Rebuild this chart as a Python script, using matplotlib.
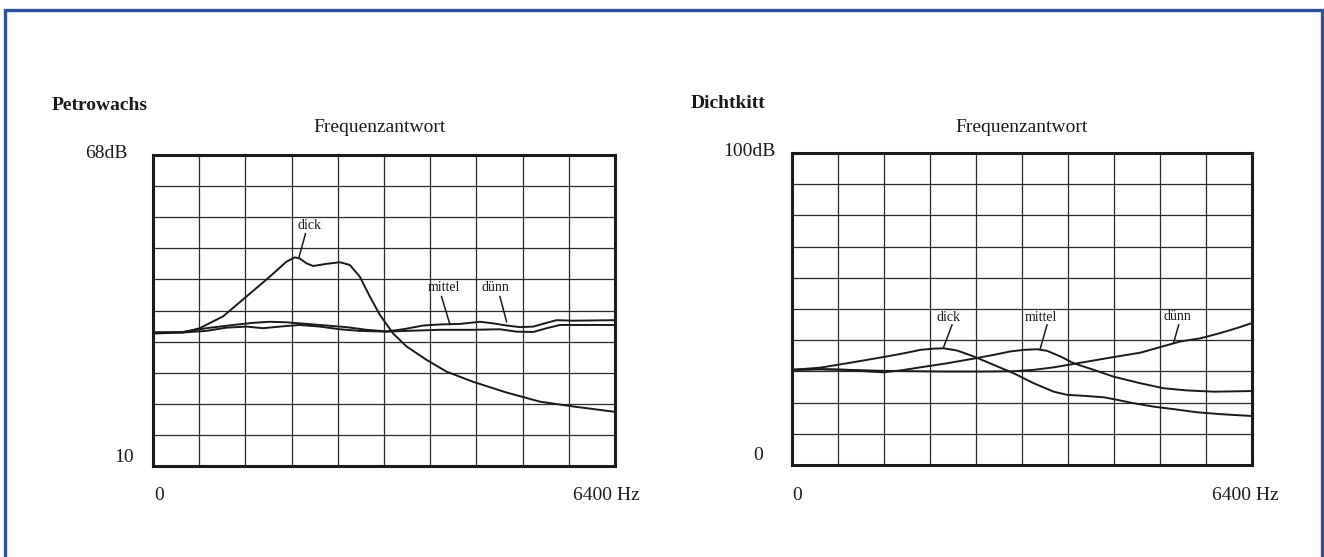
"""
Frequenzantwort: Petrowachs vs Dichtkitt, three layer thicknesses (dick / mittel / dünn).
Redrawn from a scanned figure. Writes out.png.
"""
import numpy as np
import matplotlib
matplotlib.use("Agg")
import matplotlib.pyplot as plt
from matplotlib.lines import Line2D

# --- Petrowachs (10..68 dB, 0..6400 Hz) ---
pw_dick_f = [0, 416, 647, 970, 1294, 1617, 1848, 1964, 2033, 2126, 2218, 2403, 2588, 2726,
             2865, 3004, 3142, 3327, 3512, 3789, 4066, 4436, 4898, 5360, 5822, 6400]
pw_dick_db = [34.9, 34.9, 35.7, 37.9, 41.6, 45.3, 48.1, 48.9, 48.7, 47.8, 47.3, 47.7, 48.0, 47.5,
              45.3, 41.6, 38.2, 34.7, 32.3, 29.8, 27.6, 25.7, 23.7, 22.0, 21.1, 20.1]
pw_duenn_f = [0, 416, 739, 1109, 1386, 1617, 1848, 2126, 2403, 2680, 2957, 3235, 3466, 3743,
              3974, 4251, 4528, 4713, 4898, 5083, 5268, 5453, 5591, 5822, 6400]
pw_duenn_db = [34.9, 35.0, 35.7, 36.3, 36.7, 36.9, 36.8, 36.5, 36.2, 35.9, 35.4, 35.1, 35.5, 36.2,
               36.4, 36.5, 36.9, 36.6, 36.2, 35.9, 36.0, 36.7, 37.2, 37.1, 37.2]
pw_mittel_f = [0, 416, 739, 1017, 1294, 1525, 1756, 2033, 2310, 2588, 2865, 3235, 3512, 3974,
               4436, 4806, 5037, 5268, 5453, 5637, 5822, 6400]
pw_mittel_db = [34.7, 34.9, 35.2, 35.8, 36.0, 35.7, 36.0, 36.3, 36.0, 35.5, 35.2, 35.05, 35.2, 35.4,
                35.4, 35.5, 35.05, 35.0, 35.7, 36.3, 36.3, 36.3]

# --- Dichtkitt (0..100 dB, 0..6400 Hz) ---
dk_dick_f = [0, 394, 765, 1044, 1322, 1600, 1786, 1971, 2110, 2296, 2528, 2806, 3084, 3363,
             3641, 3826, 4105, 4337, 4476, 4754, 5032, 5311, 5635, 5960, 6400]
dk_dick_db = [30.5, 31.2, 32.6, 33.7, 34.8, 36.0, 36.9, 37.3, 37.4, 36.7, 34.8, 32.1, 29.4, 26.2,
              23.5, 22.5, 22.1, 21.7, 21.1, 19.8, 18.7, 17.9, 16.9, 16.3, 15.7]
dk_mittel_f = [0, 394, 765, 1044, 1276, 1507, 1786, 2157, 2528, 2806, 3038, 3223, 3409, 3548,
               3734, 3919, 4198, 4476, 4847, 5172, 5496, 5867, 6400]
dk_mittel_db = [30.5, 30.7, 30.5, 30.0, 29.7, 30.3, 31.3, 32.6, 34.1, 35.3, 36.4, 36.9, 37.1, 36.6,
                34.8, 32.6, 30.5, 28.3, 26.2, 24.6, 23.9, 23.5, 23.7]
dk_duenn_f = [0, 394, 765, 1229, 1693, 2157, 2621, 3084, 3363, 3641, 3919, 4198, 4476, 4847,
              5125, 5403, 5682, 5960, 6192, 6400]
dk_duenn_db = [30.5, 30.7, 30.5, 30.2, 30.05, 29.95, 29.95, 30.05, 30.5, 31.3, 32.4, 33.5, 34.6, 36.0,
               37.8, 39.6, 40.6, 42.3, 43.9, 45.5]

W, H = 1324, 557
SERIF = ["Liberation Serif", "DejaVu Serif"]
INK = "#1a1a1a"


def px(x, y):
    return x / W, 1 - y / H


def grid_axes(fig, rect, ymin, ymax):
    ax = fig.add_axes(rect)
    ax.set_xlim(0, 6400)
    ax.set_ylim(ymin, ymax)
    ax.set_xticks(np.linspace(0, 6400, 11))
    ax.set_yticks(np.linspace(ymin, ymax, 11))
    ax.tick_params(length=0, labelbottom=False, labelleft=False)
    ax.grid(True, color="#2a2a2a", lw=0.9)
    for s in ax.spines.values():
        s.set_linewidth(2.2)
        s.set_color(INK)
    return ax


def label(ax, text, xy_text, p0, p1):
    ax.text(*xy_text, text, ha="center", va="center", fontsize=10, family=SERIF, color=INK)
    ax.plot([p0[0], p1[0]], [p0[1], p1[1]], color=INK, lw=1.1)


def main():
    fig = plt.figure(figsize=(W / 100, H / 100), dpi=100)
    fig.patch.set_facecolor("white")

    # blue frame (open at the bottom edge of the crop)
    x0, yt = px(5, 10)
    x1, yb = px(1321.5, 560)
    fig.add_artist(Line2D([x0, x0, x1, x1], [yb, yt, yt, yb], transform=fig.transFigure,
                          color="#2f4f9f", lw=2.4, solid_joinstyle="miter"))

    # ---- left: Petrowachs ----
    ax1 = grid_axes(fig, [153 / W, 1 - 466 / H, 462 / W, 311 / H], 10, 68)
    kw = dict(color=INK, lw=1.4, solid_joinstyle="round", solid_capstyle="round")
    ax1.plot(pw_dick_f, pw_dick_db, **kw)
    ax1.plot(pw_mittel_f, pw_mittel_db, **kw)
    ax1.plot(pw_duenn_f, pw_duenn_db, **kw)
    label(ax1, "dick", (2172, 54.8), (2112, 53.3), (2024, 49.0))
    label(ax1, "mittel", (4030, 43.3), (3997, 41.6), (4113, 36.4))
    label(ax1, "dünn", (4750, 43.3), (4806, 41.6), (4898, 36.9))

    t = dict(family=SERIF, fontsize=14, color=INK)
    fig.text(*px(52, 105), "Petrowachs", ha="left", va="center", fontweight="bold", **t)
    fig.text(*px(380, 128), "Frequenzantwort", ha="center", va="center", **t)
    fig.text(*px(128, 153), "68dB", ha="right", va="center", **t)
    fig.text(*px(134, 457), "10", ha="right", va="center", **t)
    fig.text(*px(159, 496), "0", ha="center", va="center", **t)
    fig.text(*px(573, 495), "6400 Hz", ha="left", va="center", **t)

    # ---- right: Dichtkitt ----
    ax2 = grid_axes(fig, [792 / W, 1 - 465 / H, 460 / W, 312 / H], 0, 100)
    ax2.plot(dk_dick_f, dk_dick_db, **kw)
    ax2.plot(dk_mittel_f, dk_mittel_db, **kw)
    ax2.plot(dk_duenn_f, dk_duenn_db, **kw)
    label(ax2, "dick", (2180, 47.4), (2226, 44.9), (2110, 37.8))
    label(ax2, "mittel", (3465, 47.4), (3548, 44.9), (3455, 37.4))
    label(ax2, "dünn", (5357, 47.6), (5380, 44.9), (5311, 39.3))

    fig.text(*px(691, 103), "Dichtkitt", ha="left", va="center", fontweight="bold", **t)
    fig.text(*px(1022, 128), "Frequenzantwort", ha="center", va="center", **t)
    fig.text(*px(776, 151), "100dB", ha="right", va="center", **t)
    fig.text(*px(763, 456), "0", ha="right", va="center", **t)
    fig.text(*px(797, 496), "0", ha="center", va="center", **t)
    fig.text(*px(1212, 495), "6400 Hz", ha="left", va="center", **t)

    fig.savefig("out.png", dpi=100, facecolor=fig.get_facecolor())


if __name__ == "__main__":
    main()
